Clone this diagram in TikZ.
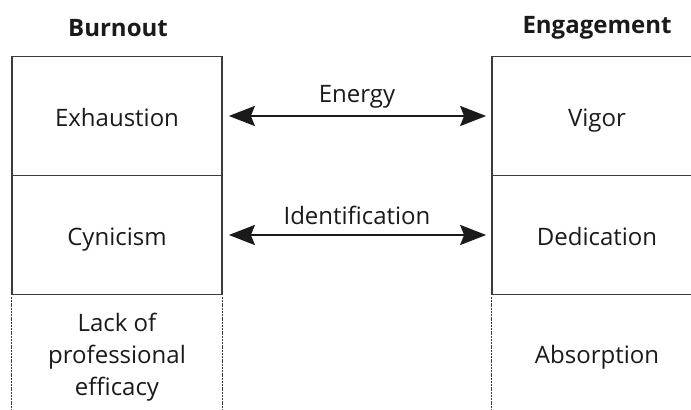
\documentclass[tikz,border=0pt]{standalone}
\usepackage{fontspec}
\setmainfont{Open Sans}
\usepackage{xcolor}
\usepackage{tikz}
\usetikzlibrary{positioning,calc,arrows.meta}
\definecolor{IInk}{HTML}{1A1A1A}

\begin{document}
\begin{tikzpicture}[x=0.5pt, y=-0.5pt,
  every node/.style={align=center, font=\fontsize{12}{16}\selectfont, text=IInk},
  cell/.style={draw=IInk!85, line width=0.85pt, minimum width=105pt, minimum height=59.5pt, inner sep=0pt,
               text height=14pt, text depth=3pt},
  opencell/.style={minimum width=105pt, minimum height=59.5pt, inner sep=0pt},
  rimline/.style={draw=IInk!85, line width=0.8pt, dash pattern=on 1pt off 0.4pt},
  dblarrow/.style={draw=IInk, line width=1.2pt, {Stealth[length=13pt,width=10pt,inset=2pt]}-{Stealth[length=13pt,width=10pt,inset=2pt]}},
  coltitle/.style={font=\fontsize{12}{14}\selectfont\bfseries}]
\useasboundingbox (0,0) rectangle (691,410);
\clip (0,0) rectangle (691,410);
\node[coltitle] (burn) at (118,28) {Burnout};
\node[coltitle] (eng) at (597,28) {Engagement};
\node[cell] (exh) at (117,116) {Exhaustion};
\node[cell] (cyn) at (117,235) {Cynicism};
\node[opencell] (lack) at (117,357) {Lack of\\ professional\\ efficacy};
\node[cell] (vig) at (597,116) {Vigor};
\node[cell] (ded) at (597,235) {Dedication};
\node[opencell] (abs) at (597,357) {Absorption};
\draw[rimline] (lack.north west) -- (lack.south west);
\draw[rimline] (lack.north east) -- (lack.south east);
\draw[rimline] (abs.north west) -- (abs.south west);
\draw[dblarrow, shorten <=3pt, shorten >=2.5pt] (exh.east) -- node[above=0pt] (nrg) {Energy} (vig.west);
\draw[dblarrow, shorten <=3pt, shorten >=2.5pt] (cyn.east) -- node[above=1pt] (idf) {Identification} (ded.west);
\end{tikzpicture}
\end{document}
